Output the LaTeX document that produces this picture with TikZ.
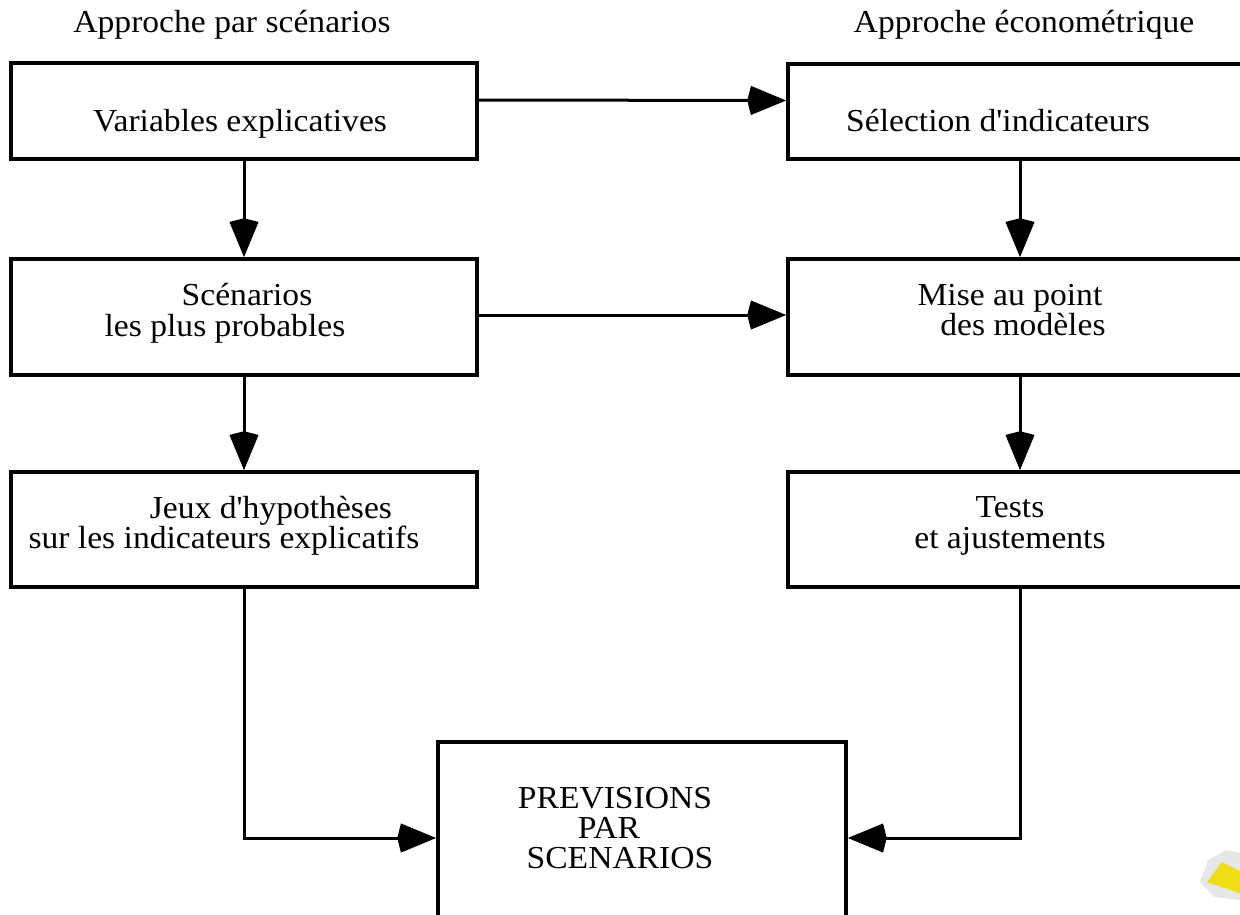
\documentclass[tikz,border=0pt]{standalone}
\usepackage{fontspec}
\setmainfont[FakeStretch=1.05,Ligatures=TeXOff]{Liberation Serif}
\usetikzlibrary{arrows.meta}
\definecolor{blob}{RGB}{240,222,20}
\definecolor{speck}{RGB}{228,232,232}
\begin{document}
\begin{tikzpicture}[x=1pt,y=-1pt,
  box/.style={draw, line width=3.5pt, minimum height=#1, inner sep=0pt},
  lbox/.style={box=#1, minimum width=466pt},
  rbox/.style={box=#1, minimum width=464pt},
  txt/.style={anchor=base, inner sep=0pt, font=\fontsize{32}{32}\selectfont},
  arr/.style={line width=3pt, -{Stealth[length=35pt,width=28pt,inset=-4pt]}}]
\useasboundingbox (0,0) rectangle (1240,914);
\clip (0,0) rectangle (1240,914);
% boxes
\node[lbox=96pt] (L1) at (244,111) {};
\node[lbox=116pt] (L2) at (244,317) {};
\node[lbox=115pt] (L3) at (244,529.5) {};
\node[rbox=95pt] (R1) at (1020,111.5) {};
\node[rbox=116pt] (R2) at (1020,317) {};
\node[rbox=115pt] (R3) at (1020,529.5) {};
\node[box=192pt, minimum width=408pt] (B) at (642,838) {};
% texts
\node[txt] (t1) at (232,32) {Approche par scénarios};
\node[txt] (t2) at (1024,32) {Approche économétrique};
\node[txt] (v) at (240,131) {Variables explicatives};
\node[txt] (s1) at (247,305) {Scénarios};
\node[txt] (s2) at (225,336) {les plus probables};
\node[txt] (j1) at (271,518) {Jeux d'hypothèses};
\node[txt] (j2) at (224,548) {sur les indicateurs explicatifs};
\node[txt] (se) at (998,131) {Sélection d'indicateurs};
\node[txt] (m1) at (1010,305) {Mise au point};
\node[txt] (m2) at (1023,335) {des modèles};
\node[txt] (te1) at (1010,517) {Tests};
\node[txt] (te2) at (1010,548) {et ajustements};
\node[txt] (p1) at (615,808) {PREVISIONS};
\node[txt] (p2) at (609,838) {PAR};
\node[txt] (p3) at (620,868) {SCENARIOS};
% connectors
\draw[arr] ([yshift=11pt]L1.east) -- ([yshift=11pt]R1.west);
\draw[arr] ([yshift=2pt]L2.east) -- ([yshift=2pt]R2.west);
\draw[arr] (L1.south) -- (L2.north);
\draw[arr] (L2.south) -- (L3.north);
\draw[arr] (R1.south) -- (R2.north);
\draw[arr] (R2.south) -- (R3.north);
\draw[arr] (L3.south) |- (B.west);
\draw[arr] (R3.south) |- (B.east);
% corner blob
\fill[speck] (1200,882) -- (1208,860) -- (1226,850) -- (1240,853) -- (1240,900) -- (1214,897) -- cycle;
\fill[blob] (1207,882) -- (1222,862) -- (1240,871) -- (1240,893) -- cycle;
\end{tikzpicture}
\end{document}
